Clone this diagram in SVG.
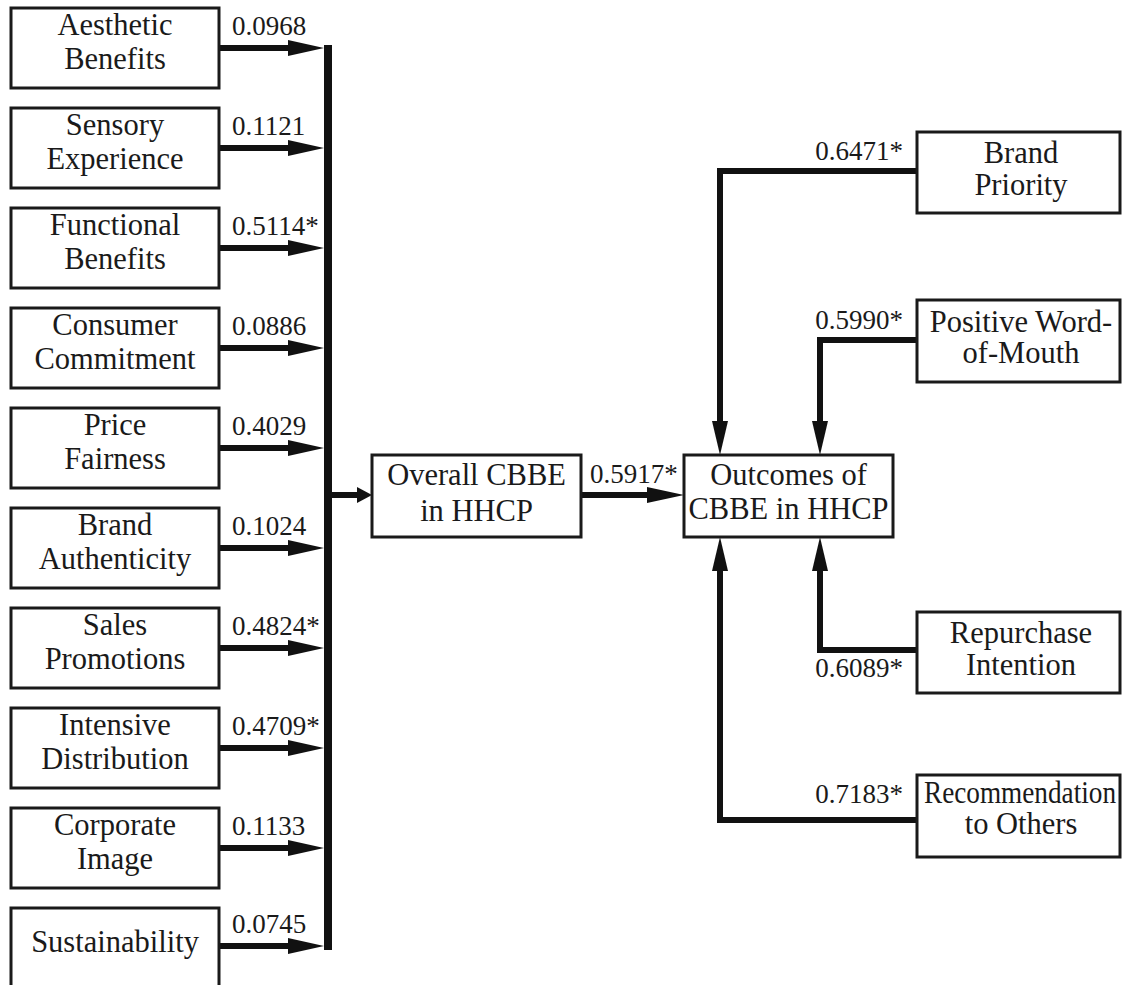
<svg xmlns="http://www.w3.org/2000/svg" width="1122" height="985" viewBox="0 0 1122 985" font-family="Liberation Serif, Times New Roman, Times, serif">
<style>
.box{fill:#fff;stroke:#1a1a1a;stroke-width:3}
.t{font-size:30.5px;fill:#1a1a1a;text-anchor:middle}
.n{font-size:27px;fill:#1a1a1a}
.r{text-anchor:end}
.ln{fill:none;stroke:#111;stroke-width:6}
.hd{fill:#111}
</style>
<rect width="1122" height="985" fill="#fff"/>
<g id="connectors">
<rect x="324" y="45" width="8" height="905" class="hd"/>
<g id="left-arrows">
<path class="ln" d="M219,48H292M219,148H292M219,248H292M219,348H292M219,448H292M219,548H292M219,648H292M219,748H292M219,848H292M219,946H292"/>
<polygon class="hd" points="288,40 324,48 288,56"/>
<polygon class="hd" points="288,140 324,148 288,156"/>
<polygon class="hd" points="288,240 324,248 288,256"/>
<polygon class="hd" points="288,340 324,348 288,356"/>
<polygon class="hd" points="288,440 324,448 288,456"/>
<polygon class="hd" points="288,540 324,548 288,556"/>
<polygon class="hd" points="288,640 324,648 288,656"/>
<polygon class="hd" points="288,740 324,748 288,756"/>
<polygon class="hd" points="288,840 324,848 288,856"/>
<polygon class="hd" points="288,938 324,946 288,954"/>
</g>
<path class="ln" d="M332,495H360"/>
<polygon class="hd" points="357,487 372,495 357,503"/>
<path class="ln" d="M581,495H650"/>
<polygon class="hd" points="647,487 684,495 647,503"/>
<path class="ln" d="M917,171H720V424"/>
<polygon class="hd" points="712,421 720,455 728,421"/>
<path class="ln" d="M917,340H820V424"/>
<polygon class="hd" points="812,421 820,455 828,421"/>
<path class="ln" d="M917,650H820V568"/>
<polygon class="hd" points="812,571 820,537 828,571"/>
<path class="ln" d="M917,820H720V568"/>
<polygon class="hd" points="712,571 720,537 728,571"/>
<text class="n" x="232" y="35">0.0968</text>
<text class="n" x="232" y="135">0.1121</text>
<text class="n" x="232" y="235">0.5114*</text>
<text class="n" x="232" y="335">0.0886</text>
<text class="n" x="232" y="435">0.4029</text>
<text class="n" x="232" y="535">0.1024</text>
<text class="n" x="232" y="635">0.4824*</text>
<text class="n" x="232" y="735">0.4709*</text>
<text class="n" x="232" y="835">0.1133</text>
<text class="n" x="232" y="933">0.0745</text>
<text class="n" x="590" y="483">0.5917*</text>
<text class="n r" x="903" y="160">0.6471*</text>
<text class="n r" x="903" y="329">0.5990*</text>
<text class="n r" x="903" y="677">0.6089*</text>
<text class="n r" x="903" y="803">0.7183*</text>
</g>
<g id="aesthetic"><rect class="box" x="11" y="8" width="208" height="80"/><text class="t" x="115" y="35">Aesthetic</text><text class="t" x="115" y="69">Benefits</text></g>
<g id="sensory"><rect class="box" x="11" y="108" width="208" height="80"/><text class="t" x="115" y="135">Sensory</text><text class="t" x="115" y="169">Experience</text></g>
<g id="functional"><rect class="box" x="11" y="208" width="208" height="80"/><text class="t" x="115" y="235">Functional</text><text class="t" x="115" y="269">Benefits</text></g>
<g id="consumer"><rect class="box" x="11" y="308" width="208" height="80"/><text class="t" x="115" y="335">Consumer</text><text class="t" x="115" y="369">Commitment</text></g>
<g id="price"><rect class="box" x="11" y="408" width="208" height="80"/><text class="t" x="115" y="435">Price</text><text class="t" x="115" y="469">Fairness</text></g>
<g id="authenticity"><rect class="box" x="11" y="508" width="208" height="80"/><text class="t" x="115" y="535">Brand</text><text class="t" x="115" y="569">Authenticity</text></g>
<g id="sales"><rect class="box" x="11" y="608" width="208" height="80"/><text class="t" x="115" y="635">Sales</text><text class="t" x="115" y="669">Promotions</text></g>
<g id="distribution"><rect class="box" x="11" y="708" width="208" height="80"/><text class="t" x="115" y="735">Intensive</text><text class="t" x="115" y="769">Distribution</text></g>
<g id="corporate"><rect class="box" x="11" y="808" width="208" height="80"/><text class="t" x="115" y="835">Corporate</text><text class="t" x="115" y="869">Image</text></g>
<g id="sustainability"><rect class="box" x="11" y="908" width="208" height="82"/><text class="t" x="115" y="952">Sustainability</text></g>
<g id="overall"><rect class="box" x="372" y="455" width="209" height="82"/><text class="t" x="476.5" y="485">Overall CBBE</text><text class="t" x="476.5" y="521">in HHCP</text></g>
<g id="outcomes"><rect class="box" x="684" y="455" width="209" height="82"/><text class="t" x="788.5" y="485">Outcomes of</text><text class="t" x="788.5" y="519">CBBE in HHCP</text></g>
<g id="priority"><rect class="box" x="917" y="132" width="203" height="81"/><text class="t" x="1021" y="163">Brand</text><text class="t" x="1021" y="195">Priority</text></g>
<g id="wom"><rect class="box" x="917" y="300" width="203" height="82"/><text class="t" x="1021" y="332">Positive Word-</text><text class="t" x="1021" y="363">of-Mouth</text></g>
<g id="repurchase"><rect class="box" x="917" y="612" width="203" height="81"/><text class="t" x="1021" y="643">Repurchase</text><text class="t" x="1021" y="675">Intention</text></g>
<g id="recommendation"><rect class="box" x="917" y="775" width="203" height="82"/><text class="t" x="1020" y="803" textLength="192" lengthAdjust="spacingAndGlyphs">Recommendation</text><text class="t" x="1021" y="834">to Others</text></g>
</svg>
